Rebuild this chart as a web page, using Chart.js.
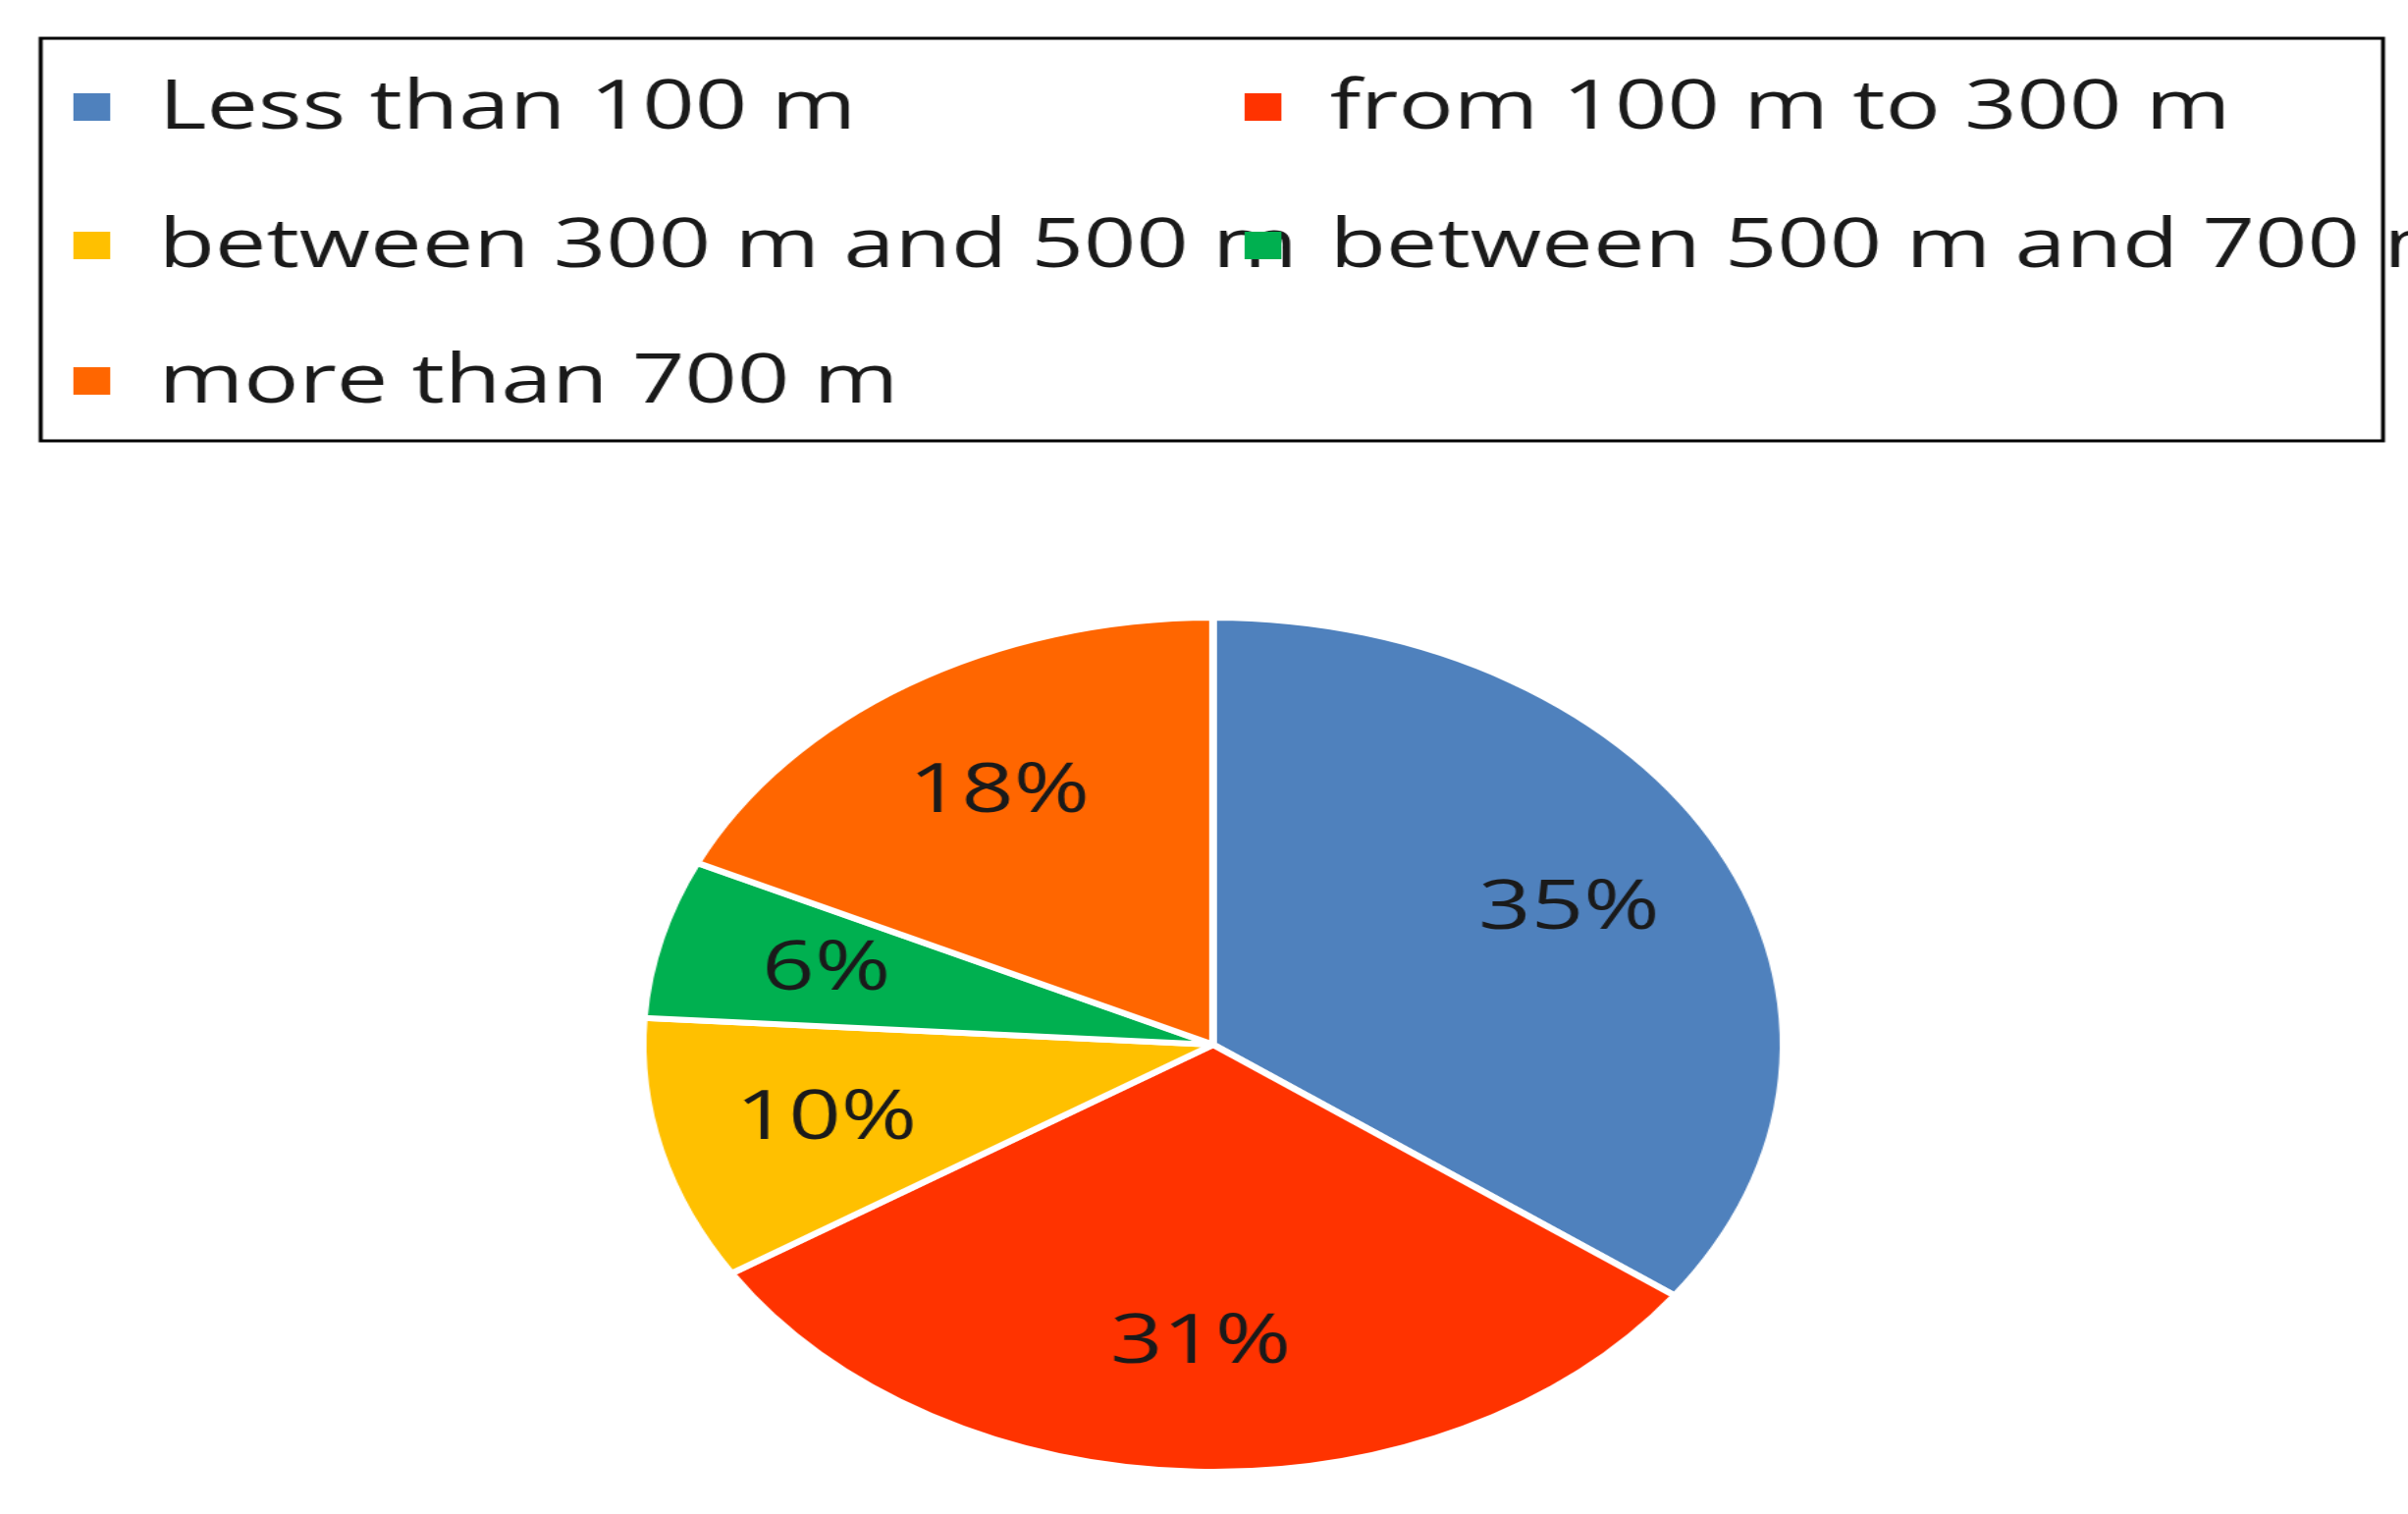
<!DOCTYPE html>
<html>
<head>
<meta charset="utf-8">
<script src="https://cdn.jsdelivr.net/npm/chart.js@4/dist/chart.umd.min.js"></script>
<style>
  html, body { margin: 0; padding: 0; background: #fff; overflow: hidden; }
  #wrap { width: 1836px; height: 1542px; transform: scaleX(1.336); transform-origin: 0 0; }
</style>
</head>
<body>
<div id="wrap"><canvas id="pie" width="1836" height="1542"></canvas></div>
<script>
const labels = ['Less than 100 m', 'from 100 m to 300 m', 'between 300 m and 500 m', 'between 500 m and 700 m', 'more than 700 m'];
const shares = [35, 31, 10, 6, 18];
const colors = ['#4F81BD', '#FF3300', '#FFC000', '#00B050', '#FF6600'];

// legend in a framed box, two columns
const boxLegend = {
  id: 'boxLegend',
  afterDraw(chart) {
    const ctx = chart.ctx;
    ctx.save();
    ctx.strokeStyle = '#000';
    ctx.lineWidth = 3;
    ctx.strokeRect(31, 39, 1786, 410);
    ctx.font = '70px "Open Sans", sans-serif';
    ctx.textBaseline = 'middle';
    const rows = [109, 250, 388];
    const cols = [64, 957];
    labels.forEach((lab, i) => {
      const x = cols[i % 2], y = rows[Math.floor(i / 2)];
      ctx.fillStyle = colors[i];
      ctx.fillRect(x - 8, y - 14, 28, 28);
      ctx.fillStyle = '#1a1a1a';
      ctx.fillText(lab, x + 57, y + 2);
    });
    ctx.restore();
  }
};

// percentage labels on slices
const sliceLabels = {
  id: 'sliceLabels',
  afterDatasetsDraw(chart) {
    const ctx = chart.ctx;
    ctx.save();
    ctx.font = '70px "Open Sans", sans-serif';
    ctx.fillStyle = '#1a1a1a';
    ctx.textAlign = 'center';
    ctx.textBaseline = 'middle';
    chart.getDatasetMeta(0).data.forEach((arc, i) => {
      const p = arc.getProps(['x', 'y', 'startAngle', 'endAngle', 'outerRadius']);
      const a = (p.startAngle + p.endAngle) / 2;
      const r = p.outerRadius * 0.7;
      ctx.fillText(shares[i] + '%', p.x + Math.cos(a) * r, p.y + Math.sin(a) * r);
    });
    ctx.restore();
  }
};

new Chart(document.getElementById('pie'), {
  type: 'pie',
  data: {
    labels: labels,
    datasets: [{
      data: shares,
      backgroundColor: colors,
      borderColor: '#fff',
      borderWidth: 6
    }]
  },
  options: {
    responsive: false,
    animation: false,
    layout: { padding: { top: 626, bottom: 40, left: 487, right: 473 } },
    plugins: { legend: { display: false }, tooltip: { enabled: false } }
  },
  plugins: [boxLegend, sliceLabels]
});
</script>
</body>
</html>
